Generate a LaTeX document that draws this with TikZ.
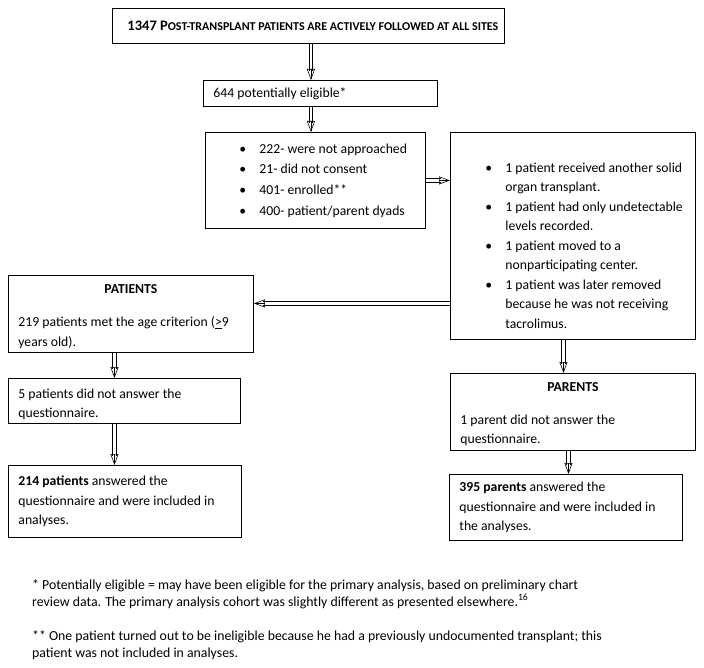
\documentclass[tikz,border=0pt]{standalone}
\usepackage{fontspec}
\setmainfont{Carlito}
\usetikzlibrary{arrows.meta}
\newcommand\bitem[1]{\par\hangindent=20pt\hangafter=1\noindent\makebox[20pt][l]{\textbullet}#1}
\newcommand\fsc[1]{{\fontsize{12pt}{12pt}\selectfont #1}}
% #1 width, #2 left skip, #3 content
\newcommand\inbox[3]{\begin{minipage}{#1}\raggedright\leftskip=#2\relax\parindent=0pt #3\end{minipage}}
\tikzset{
  box/.style={draw, line width=0.9pt, anchor=north west, inner sep=0pt,
    font=\fontsize{13.7pt}{19.5pt}\selectfont},
  ln/.style={line width=0.6pt},
  tip/.style={line width=0.6pt, -{Triangle[open, length=11pt, width=8pt, line width=0.6pt]}},
  fn/.style={anchor=base west, inner sep=0pt, align=left, font=\fontsize{13.8pt}{17pt}\selectfont},
}
% vertical (downward) and horizontal double-shaft arrows between named coordinates
\newcommand\vdbl[2]{%
  \draw[ln, shorten >=9pt] ([xshift=-1.7pt]#1) -- ([xshift=-1.7pt]#2);
  \draw[ln, shorten >=9pt] ([xshift=1.7pt]#1) -- ([xshift=1.7pt]#2);
  \draw[tip] ([yshift=1pt]#2) -- (#2);}
\newcommand\hdbl[3]{% #3 = +1 rightward, -1 leftward
  \draw[ln, shorten >=9pt] ([yshift=-1.7pt]#1) -- ([yshift=-1.7pt]#2);
  \draw[ln, shorten >=9pt] ([yshift=1.7pt]#1) -- ([yshift=1.7pt]#2);
  \draw[tip] ([xshift=-#3 pt]#2) -- (#2);}
\begin{document}
\begin{tikzpicture}[x=1pt,y=-1pt]
\useasboundingbox (0,0) rectangle (704,668);
\node[box, minimum width=392pt, minimum height=35pt] (top) at (112,8)
  {\inbox{392pt}{15pt}{\fontsize{14.5pt}{16pt}\selectfont\textbf{1347 P\fsc{OST-TRANSPLANT PATIENTS ARE ACTIVELY FOLLOWED AT ALL SITES}}}};
\node[box, minimum width=234pt, minimum height=26pt] (e644) at (203,80)
  {\inbox{234pt}{10pt}{644 potentially eligible*}};
\node[box, minimum width=220pt, minimum height=96pt,
  font=\fontsize{13.7pt}{20.6pt}\selectfont] (b1) at (205,132)
  {\inbox{220pt}{34pt}{%
   \bitem{222- were not approached}
   \bitem{21- did not consent}
   \bitem{401- enrolled**}
   \bitem{400- patient/parent dyads}}};
\node[box, minimum width=245pt, minimum height=207pt] (b2) at (450,132)
  {\inbox{245pt}{35pt}{\vspace*{19pt}%
   \bitem{1 patient received another solid\newline organ transplant.}
   \bitem{1 patient had only undetectable\newline levels recorded.}
   \bitem{1 patient moved to a\newline nonparticipating center.}
   \bitem{1 patient was later removed\newline because he was not receiving\newline tacrolimus.}}};
\node[box, minimum width=245pt, minimum height=77pt] (pat) at (8,275)
  {\inbox{245pt}{10pt}{\vspace*{5pt}{\centering\textbf{PATIENTS}\par}\vspace{14pt}%
   219 patients met the age criterion (\underline{>}9\newline years old).}};
\node[box, minimum width=232pt, minimum height=45pt] (five) at (8,378)
  {\inbox{232pt}{10pt}{\vspace*{7pt}5 patients did not answer the\newline questionnaire.}};
\node[box, minimum width=233pt, minimum height=72pt] (p214) at (8,465)
  {\inbox{233pt}{10pt}{\textbf{214 patients} answered the\newline questionnaire and were included in\newline analyses.}};
\node[box, minimum width=245pt, minimum height=77pt] (par) at (450,373)
  {\inbox{245pt}{10pt}{\vspace*{5pt}{\centering\textbf{PARENTS}\par}\vspace{13pt}%
   1 parent did not answer the\newline questionnaire.}};
\node[box, minimum width=233pt, minimum height=66pt] (p395) at (449,474)
  {\inbox{233pt}{10pt}{\textbf{395 parents} answered the\newline questionnaire and were included in\newline the analyses.}};
\node[fn] (fn1) at (32,606)
  {* Potentially eligible = may have been eligible for the primary analysis, based on preliminary chart\\
   review data. The primary analysis cohort was slightly different as presented elsewhere.\textsuperscript{16}};
\node[fn] (fn2) at (32,657)
  {** One patient turned out to be ineligible because he had a previously undocumented transplant; this\\
   patient was not included in analyses.};
% connectors: double shaft + open tip
\coordinate (a1s) at ([xshift=2.5pt]top.south);
\coordinate (a1e) at (a1s |- e644.north);
\vdbl{a1s}{a1e}
\coordinate (a2s) at (a1s |- e644.south);
\coordinate (a2e) at (a1s |- b1.north);
\vdbl{a2s}{a2e}
\coordinate (a3s) at (b1.east);
\coordinate (a3e) at (b1.east -| b2.west);
\hdbl{a3s}{a3e}{1}
\coordinate (a4s) at ([yshift=10.5pt]pat.east -| b2.west);
\coordinate (a4e) at ([yshift=10.5pt]pat.east);
\hdbl{a4s}{a4e}{-1}
\coordinate (a5s) at ([xshift=-16.5pt]pat.south);
\coordinate (a5e) at (a5s |- five.north);
\vdbl{a5s}{a5e}
\coordinate (a6s) at (a5s |- five.south);
\coordinate (a6e) at (a5s |- p214.north);
\vdbl{a6s}{a6e}
\coordinate (a7s) at ([xshift=-9.5pt]b2.south);
\coordinate (a7e) at (a7s |- par.north);
\vdbl{a7s}{a7e}
\coordinate (a8s) at ([xshift=-4.5pt]par.south);
\coordinate (a8e) at (a8s |- p395.north);
\vdbl{a8s}{a8e}
\end{tikzpicture}
\end{document}
